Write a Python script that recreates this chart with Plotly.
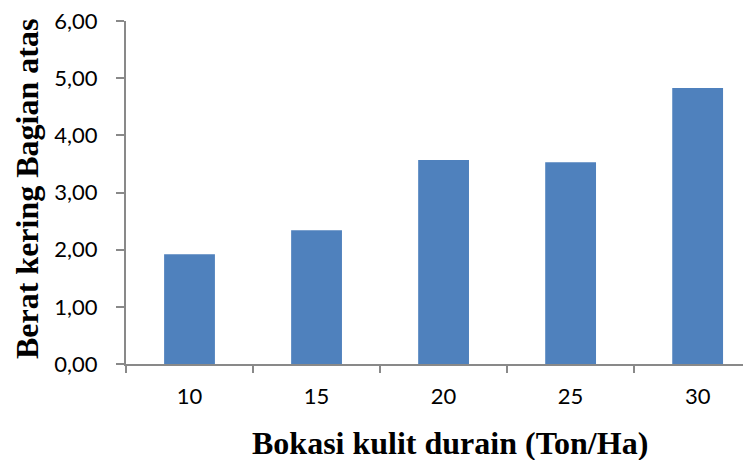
import plotly.graph_objects as go

categories = ["10", "15", "20", "25", "30"]
values = [1.92, 2.34, 3.57, 3.53, 4.83]
y_ticks = [0, 1, 2, 3, 4, 5, 6]
x_title = "Bokasi kulit durain (Ton/Ha)"
y_title = "Berat kering Bagian atas"

fig = go.Figure(go.Bar(x=categories, y=values, marker=dict(color="#4F81BD", line=dict(width=0))))

axis_col = "#898989"
tick_font = dict(family="Lato, Carlito, Calibri, sans-serif", size=22, color="black")
title_font = dict(family="Liberation Serif, Times New Roman, serif", size=32, color="black", weight="bold")

fig.update_layout(
    width=751, height=460,
    margin=dict(l=118, r=8, t=12.5, b=103.7),
    plot_bgcolor="white", paper_bgcolor="white",
    bargap=0.6, separators=",.",
    showlegend=False,
)
fig.update_xaxes(
    type="category", range=[-0.5, 4.42], automargin=False,
    showline=True, linecolor=axis_col, linewidth=2,
    ticks="outside", tickson="boundaries", ticklen=7, tickcolor=axis_col, tickwidth=2,
    tickfont=tick_font, showgrid=False, ticklabelstandoff=12,
)
fig.update_yaxes(
    range=[0, 6], tickvals=y_ticks, tickformat=".2f", automargin=False,
    showline=True, linecolor=axis_col, linewidth=2,
    ticks="outside", ticklen=8, tickcolor=axis_col, tickwidth=2,
    tickfont=tick_font, showgrid=False, zeroline=False,
    ticklabelstandoff=14, ticklabeloverflow="allow",
)
fig.add_annotation(text=x_title, font=title_font, showarrow=False,
                   xref="paper", yref="paper", x=0.518, y=-0.229,
                   xanchor="center", yanchor="middle")
fig.add_annotation(text=y_title, font=title_font, showarrow=False, textangle=-90,
                   xref="paper", yref="paper", x=-0.1584, y=0.51,
                   xanchor="center", yanchor="middle")
fig.write_html("out.html")
